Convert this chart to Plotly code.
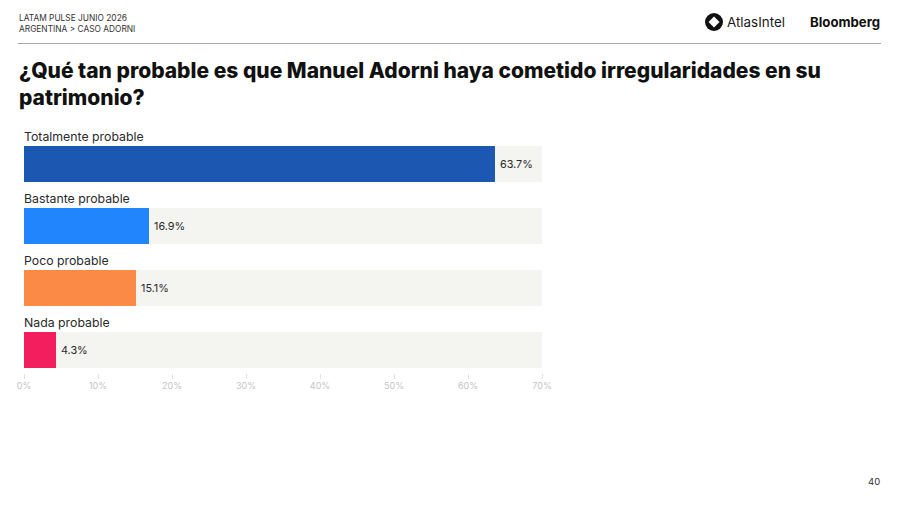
import plotly.graph_objects as go

categories = ["Totalmente probable", "Bastante probable", "Poco probable", "Nada probable"]
values = [63.7, 16.9, 15.1, 4.3]
bar_colors = ["#1C58B2", "#2185FD", "#FB8A47", "#F31E5E"]
track_values = [70, 70, 70, 70]
x_ticks = [0, 10, 20, 30, 40, 50, 60, 70]
x_tick_labels = ["0%", "10%", "20%", "30%", "40%", "50%", "60%", "70%"]

header_lines = ["LATAM PULSE JUNIO 2026", "ARGENTINA > CASO ADORNI"]
title_text = "¿Qué tan probable es que Manuel Adorni haya cometido irregularidades en su<br>patrimonio?"
page_number = "40"

W, H = 900, 506
SANS = "Inter, 'Noto Sans', sans-serif"

fig = go.Figure()

# Pale track behind each bar, spanning the full axis
fig.add_trace(go.Bar(
    y=categories, x=track_values, orientation="h", width=0.58,
    marker=dict(color="#F4F4F1", line_width=0), hoverinfo="skip", showlegend=False,
))
fig.add_trace(go.Bar(
    y=categories, x=values, orientation="h", width=0.58,
    marker=dict(color=bar_colors, line_width=0), showlegend=False,
))

annotations = []

for c, v in zip(categories, values):
    # Category name just above its bar
    annotations.append(dict(
        x=0, y=c, xref="x", yref="y", text=c, showarrow=False, borderpad=0,
        xanchor="left", yanchor="middle", xshift=-1, yshift=28,
        font=dict(family=SANS, size=12.3, color="#2A2A2A"),
    ))
    # Value label just past the end of the bar
    annotations.append(dict(
        x=v, y=c, xref="x", yref="y", text=f"{v}%", showarrow=False, borderpad=0,
        xanchor="left", yanchor="middle", xshift=4,
        font=dict(family=SANS, size=10.8, color="#2A2A2A"),
    ))


def page_text(x, y, text, size, color="#1A1A1A", anchor="left", weight=400, family=SANS):
    return dict(
        x=x / W, y=1 - y / H, xref="paper", yref="paper", text=text, showarrow=False,
        xanchor=anchor, yanchor="middle", align="left", borderpad=0,
        font=dict(family=family, size=size, color=color, weight=weight),
    )


annotations += [
    page_text(18, 17.5, header_lines[0], 8.35, "#333333"),
    page_text(18, 29, header_lines[1], 8.35, "#333333"),
    page_text(18, 83.5, title_text, 21, "#111111", weight=800),
    page_text(726, 22.5, "AtlasIntel", 13.4, "#1A1A1A"),
    page_text(881, 22, "Bloomberg", 13.2, "#111111", anchor="right", weight=700),
    page_text(881, 481, page_number, 9.5, "#333333", anchor="right"),
]

shapes = [
    # Rule under the header
    dict(type="line", xref="paper", yref="paper", x0=18 / W, x1=881 / W,
         y0=1 - 43.5 / H, y1=1 - 43.5 / H, line=dict(color="#A8A8A8", width=1.2)),
    # AtlasIntel mark: black disc with a white diamond
    dict(type="circle", xref="paper", yref="paper", x0=705 / W, x1=723 / W,
         y0=1 - 31 / H, y1=1 - 13 / H, fillcolor="#111111", line_width=0),
    dict(type="path", xref="paper", yref="paper",
         path=f"M {708.5 / W} {1 - 22 / H} L {714 / W} {1 - 16.5 / H} "
              f"L {719.5 / W} {1 - 22 / H} L {714 / W} {1 - 27.5 / H} Z",
         fillcolor="#FFFFFF", line_width=0),
]

# The plot area runs from y=133 to y=373 and x=24 to x=542 on the page
fig.update_layout(
    width=W, height=H, barmode="overlay", bargap=0,
    margin=dict(l=0, r=0, t=0, b=0, autoexpand=False),
    paper_bgcolor="#FFFFFF", plot_bgcolor="#FFFFFF",
    annotations=annotations, shapes=shapes,
    xaxis=dict(
        domain=[24 / W, 542 / W], range=[0, 70], tickvals=x_ticks, ticktext=x_tick_labels,
        showgrid=False, zeroline=False, showline=False,
        ticks="outside", ticklen=5, tickwidth=1, tickcolor="#E2E2E2",
        ticklabelstandoff=-1,
        tickfont=dict(family=SANS, size=9, color="#C4C4C4"),
        anchor="y",
    ),
    yaxis=dict(
        domain=[1 - 373 / H, 1 - 133 / H], range=[3.371, -0.5],
        categoryorder="array", categoryarray=categories,
        showticklabels=False, showgrid=False, zeroline=False, showline=False, ticks="",
    ),
)

fig.write_html("out.html", config=dict(displayModeBar=False))
